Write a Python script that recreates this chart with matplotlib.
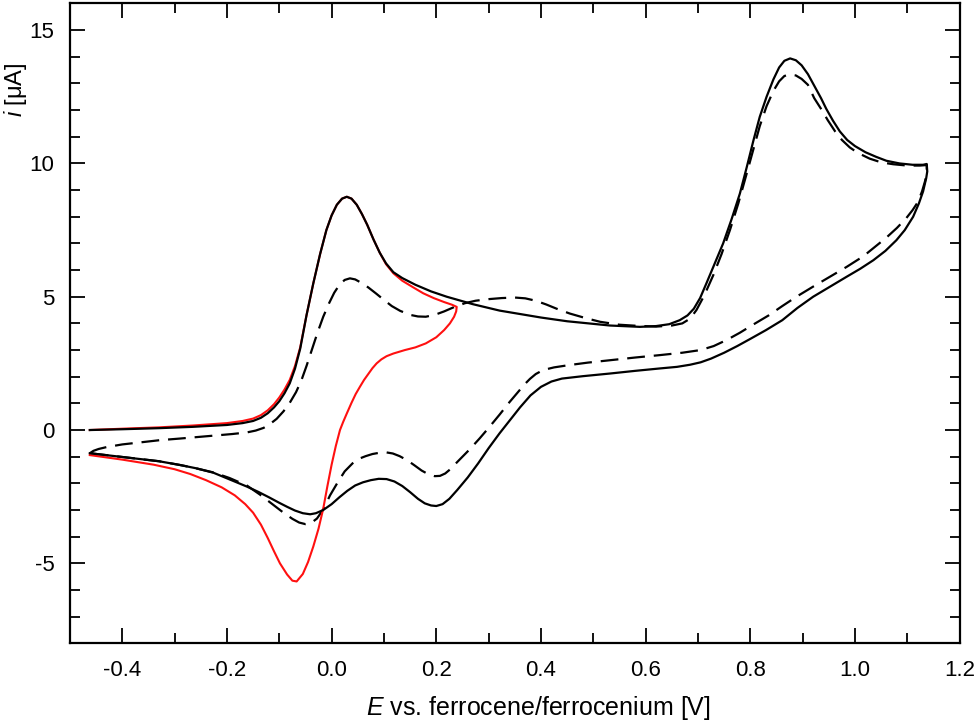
#!/usr/bin/env python3
"""Cyclic voltammograms vs. ferrocene/ferrocenium (two full scans + one short red scan)."""

import matplotlib
matplotlib.use("Agg")
import matplotlib.pyplot as plt
from matplotlib.ticker import MultipleLocator, FuncFormatter

plt.rcParams["font.family"] = ["Liberation Sans", "DejaVu Sans"]
plt.rcParams["axes.unicode_minus"] = False
plt.rcParams["mathtext.fontset"] = "custom"
plt.rcParams["mathtext.rm"] = "Liberation Sans"
plt.rcParams["mathtext.it"] = "Liberation Sans:italic"

# solid black scan: E [V], i [uA]
solid_E = [-0.462, -0.40, -0.33, -0.265, -0.20, -0.17, -0.15, -0.135, -0.122, -0.110,
           -0.100, -0.090, -0.080, -0.070, -0.060, -0.048, -0.035, -0.022, -0.010, 0.000,
           0.010, 0.020, 0.029, 0.038, 0.048, 0.058, 0.068, 0.080, 0.092, 0.104,
           0.118, 0.135, 0.160, 0.190, 0.220, 0.270, 0.321, 0.40, 0.45, 0.532,
           0.589, 0.620, 0.645, 0.665, 0.680, 0.692, 0.704, 0.716, 0.732, 0.748,
           0.764, 0.780, 0.793, 0.806, 0.818, 0.831, 0.844, 0.855, 0.865, 0.876,
           0.887, 0.898, 0.910, 0.922, 0.935, 0.945, 0.958, 0.971, 0.985, 1.000,
           1.020, 1.040, 1.060, 1.085, 1.110, 1.130, 1.137,
           1.138, 1.136, 1.130, 1.122, 1.111, 1.095, 1.079, 1.058, 1.035, 1.010,
           0.984, 0.950, 0.920, 0.890, 0.861, 0.830, 0.800, 0.775, 0.750, 0.725,
           0.705, 0.685, 0.660, 0.627, 0.580, 0.532, 0.480, 0.440, 0.420, 0.400,
           0.380, 0.360, 0.340, 0.321, 0.300, 0.280, 0.260, 0.240, 0.225, 0.212,
           0.200, 0.190, 0.178, 0.165, 0.150, 0.135, 0.120, 0.105, 0.090, 0.075,
           0.060, 0.045, 0.030, 0.015, 0.000, -0.016, -0.030, -0.041, -0.055, -0.070,
           -0.085, -0.100, -0.120, -0.140, -0.162, -0.195, -0.226, -0.260, -0.290, -0.330,
           -0.400, -0.462]
solid_i = [0.00, 0.03, 0.07, 0.12, 0.19, 0.26, 0.34, 0.46, 0.63, 0.85,
           1.08, 1.38, 1.75, 2.30, 3.05, 4.30, 5.50, 6.60, 7.50, 8.05,
           8.45, 8.68, 8.75, 8.68, 8.45, 8.10, 7.70, 7.15, 6.65, 6.25,
           5.92, 5.70, 5.45, 5.20, 5.00, 4.72, 4.48, 4.22, 4.08, 3.92,
           3.87, 3.90, 3.97, 4.12, 4.30, 4.55, 4.95, 5.50, 6.25, 7.00,
           7.90, 8.87, 9.85, 10.87, 11.75, 12.50, 13.15, 13.60, 13.85, 13.94,
           13.87, 13.68, 13.35, 12.92, 12.45, 12.05, 11.60, 11.20, 10.88, 10.65,
           10.42, 10.25, 10.10, 10.00, 9.95, 9.95, 9.98,
           9.70, 9.45, 8.95, 8.50, 8.00, 7.50, 7.12, 6.72, 6.37, 6.05,
           5.75, 5.35, 5.00, 4.58, 4.12, 3.75, 3.42, 3.15, 2.90, 2.68,
           2.54, 2.45, 2.37, 2.31, 2.22, 2.12, 2.02, 1.93, 1.82, 1.62,
           1.30, 0.85, 0.35, -0.12, -0.68, -1.25, -1.78, -2.25, -2.58, -2.78,
           -2.85, -2.83, -2.75, -2.58, -2.33, -2.10, -1.93, -1.84, -1.83, -1.88,
           -1.96, -2.08, -2.28, -2.52, -2.78, -3.00, -3.12, -3.16, -3.12, -3.02,
           -2.88, -2.73, -2.52, -2.32, -2.12, -1.85, -1.60, -1.43, -1.31, -1.17,
           -1.01, -0.87]

# dashed black scan
dash_E = [-0.462, -0.455, -0.445, -0.430, -0.400, -0.360, -0.328, -0.290, -0.232, -0.190,
          -0.162, -0.145, -0.130, -0.118, -0.105, -0.092, -0.080, -0.068, -0.058, -0.048,
          -0.038, -0.027, -0.016, -0.005, 0.005, 0.015, 0.025, 0.035, 0.045, 0.057,
          0.070, 0.085, 0.100, 0.115, 0.131, 0.150, 0.165, 0.180, 0.197, 0.215,
          0.235, 0.255, 0.275, 0.300, 0.325, 0.350, 0.370, 0.390, 0.410, 0.430,
          0.455, 0.485, 0.513, 0.550, 0.583, 0.620, 0.650, 0.670, 0.685, 0.697,
          0.712, 0.729, 0.745, 0.761, 0.777, 0.793, 0.806, 0.818, 0.831, 0.844,
          0.855, 0.865, 0.8755, 0.887, 0.898, 0.910, 0.922, 0.935, 0.948, 0.962,
          0.975, 0.990, 1.005, 1.028, 1.050, 1.073, 1.100, 1.124, 1.137,
          1.137, 1.134, 1.128, 1.120, 1.110, 1.098, 1.080, 1.060, 1.040, 1.016,
          0.984, 0.952, 0.920, 0.888, 0.861, 0.835, 0.805, 0.780, 0.755, 0.730,
          0.705, 0.670, 0.627, 0.580, 0.532, 0.490, 0.455, 0.425, 0.404, 0.390,
          0.379, 0.368, 0.355, 0.340, 0.321, 0.300, 0.283, 0.265, 0.250, 0.239,
          0.228, 0.217, 0.207, 0.197, 0.185, 0.172, 0.158, 0.145, 0.130, 0.117,
          0.105, 0.092, 0.078, 0.065, 0.052, 0.040, 0.025, 0.012, -0.003, -0.016,
          -0.028, -0.040, -0.050, -0.062, -0.075, -0.092, -0.112, -0.137, -0.162, -0.195,
          -0.226, -0.260, -0.290, -0.330, -0.400, -0.462]
dash_i = [-0.87, -0.78, -0.71, -0.64, -0.54, -0.45, -0.38, -0.32, -0.22, -0.15,
          -0.09, -0.02, 0.08, 0.22, 0.42, 0.70, 1.02, 1.42, 1.85, 2.40,
          3.00, 3.65, 4.25, 4.75, 5.15, 5.45, 5.63, 5.69, 5.65, 5.52,
          5.35, 5.12, 4.88, 4.65, 4.47, 4.32, 4.26, 4.25, 4.32, 4.45,
          4.62, 4.76, 4.85, 4.91, 4.95, 4.97, 4.94, 4.85, 4.71, 4.55,
          4.37, 4.20, 4.06, 3.95, 3.91, 3.88, 3.92, 4.00, 4.18, 4.50,
          5.05, 5.80, 6.60, 7.50, 8.50, 9.62, 10.55, 11.40, 12.15, 12.72,
          13.08, 13.28, 13.34, 13.30, 13.17, 12.95, 12.45, 12.05, 11.62, 11.20,
          10.88, 10.60, 10.40, 10.18, 10.04, 9.97, 9.92, 9.92, 9.94,
          9.70, 9.35, 8.95, 8.55, 8.25, 7.95, 7.58, 7.22, 6.90, 6.52,
          6.12, 5.75, 5.38, 5.00, 4.65, 4.30, 3.95, 3.65, 3.38, 3.15,
          3.00, 2.90, 2.81, 2.72, 2.62, 2.53, 2.44, 2.35, 2.25, 2.10,
          1.92, 1.70, 1.40, 1.05, 0.58, 0.08, -0.31, -0.70, -1.00, -1.22,
          -1.45, -1.63, -1.72, -1.73, -1.66, -1.52, -1.32, -1.14, -0.98, -0.88,
          -0.84, -0.85, -0.90, -0.98, -1.08, -1.25, -1.55, -1.95, -2.45, -2.98,
          -3.32, -3.50, -3.53, -3.47, -3.33, -3.10, -2.80, -2.42, -2.08, -1.80,
          -1.59, -1.43, -1.31, -1.17, -1.01, -0.87]

# red short scan (reversed at ~0.24 V)
red_E = [-0.462, -0.40, -0.33, -0.265, -0.20, -0.17, -0.15, -0.135, -0.122, -0.110,
         -0.100, -0.090, -0.080, -0.070, -0.060, -0.048, -0.035, -0.022, -0.010, 0.000,
         0.010, 0.020, 0.029, 0.038, 0.048, 0.058, 0.068, 0.080, 0.092, 0.104,
         0.118, 0.135, 0.156, 0.175, 0.195, 0.215, 0.230, 0.239,
         0.238, 0.234, 0.226, 0.215, 0.200, 0.180, 0.160, 0.140, 0.118, 0.105,
         0.095, 0.086, 0.078, 0.070, 0.062, 0.054, 0.046, 0.038, 0.029, 0.022,
         0.016, 0.008, 0.000, -0.008, -0.016, -0.025, -0.035, -0.045, -0.055, -0.0668,
         -0.075, -0.085, -0.0987, -0.110, -0.122, -0.135, -0.150, -0.165, -0.185, -0.210,
         -0.240, -0.270, -0.300, -0.340, -0.400, -0.462]
red_i = [0.00, 0.05, 0.10, 0.17, 0.26, 0.34, 0.43, 0.56, 0.74, 0.97,
         1.22, 1.52, 1.88, 2.40, 3.10, 4.30, 5.50, 6.60, 7.50, 8.05,
         8.45, 8.68, 8.75, 8.68, 8.45, 8.10, 7.70, 7.15, 6.65, 6.22,
         5.88, 5.60, 5.35, 5.13, 4.95, 4.80, 4.70, 4.62,
         4.45, 4.25, 4.00, 3.75, 3.48, 3.25, 3.10, 3.00, 2.87, 2.77,
         2.65, 2.50, 2.32, 2.10, 1.88, 1.62, 1.35, 1.02, 0.62, 0.30,
         0.00, -0.60, -1.30, -2.10, -2.95, -3.70, -4.37, -4.95, -5.40, -5.68,
         -5.65, -5.42, -5.00, -4.55, -4.05, -3.55, -3.10, -2.78, -2.45, -2.15,
         -1.88, -1.65, -1.47, -1.30, -1.11, -0.94]


def fmt_x(v, pos):
    v = round(v, 1)
    if v == 0:
        v = 0.0
    return f"{v:.1f}"


def fmt_y(v, pos):
    return f"{int(round(v))}"


def main():
    fig = plt.figure(figsize=(9.79, 7.26), dpi=100)
    ax = fig.add_axes([0.0714, 0.1139, 0.9089, 0.8813])

    ax.plot(solid_E, solid_i, color="black", lw=1.6, solid_joinstyle="round", zorder=3)
    ax.plot(dash_E, dash_i, color="black", lw=1.6, linestyle=(0, (8, 4)), zorder=2)
    ax.plot(red_E, red_i, color="#ff1010", lw=1.5, solid_joinstyle="round", zorder=2)

    ax.set_xlim(-0.5, 1.2)
    ax.set_ylim(-8, 16)
    ax.xaxis.set_major_locator(MultipleLocator(0.2))
    ax.xaxis.set_minor_locator(MultipleLocator(0.1))
    ax.yaxis.set_major_locator(MultipleLocator(5))
    ax.yaxis.set_minor_locator(MultipleLocator(1))
    ax.xaxis.set_major_formatter(FuncFormatter(fmt_x))
    ax.yaxis.set_major_formatter(FuncFormatter(fmt_y))

    ax.tick_params(which="both", direction="in", top=True, right=True, width=1.3,
                   labelsize=16, colors="black")
    ax.tick_params(which="major", length=10.8)
    ax.tick_params(which="minor", length=7.2)
    ax.tick_params(axis="x", which="major", pad=12)
    ax.tick_params(axis="y", which="major", pad=11)
    for sp in ax.spines.values():
        sp.set_linewidth(1.6)

    ax.set_xlabel(r"$\it{E}$ vs. ferrocene/ferrocenium [V]", fontsize=18)
    ax.set_ylabel(r"$\it{i}$ [μA]", fontsize=17)
    ax.xaxis.set_label_coords(0.526, -0.080)
    ax.yaxis.set_label_coords(-0.046, 0.866)

    fig.savefig("out.png", dpi=100)
    plt.close(fig)


if __name__ == "__main__":
    main()
